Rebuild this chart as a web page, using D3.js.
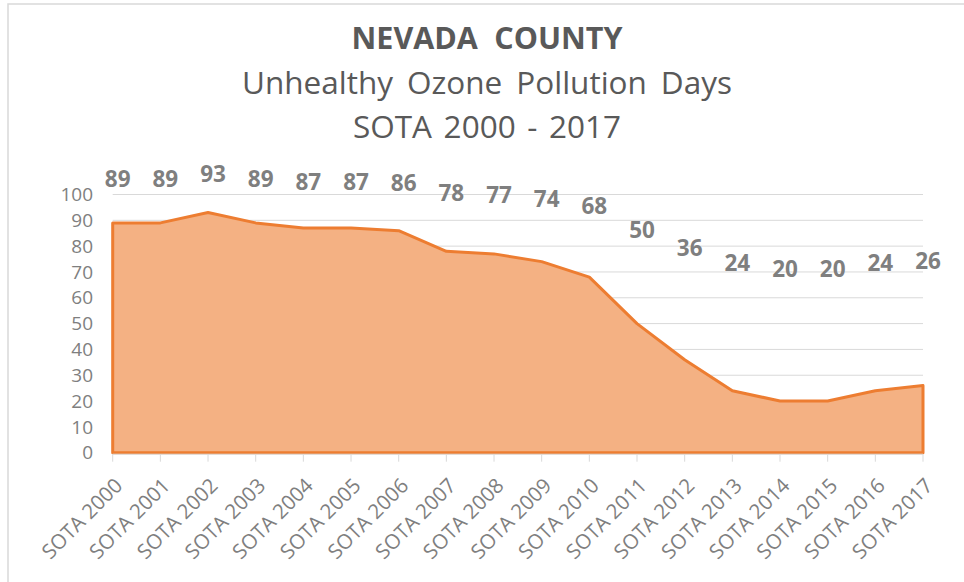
<!DOCTYPE html>
<html>
<head>
<meta charset="utf-8">
<script src="https://cdn.jsdelivr.net/npm/d3@7/dist/d3.min.js"></script>
<style>
  html, body { margin: 0; padding: 0; background: #fff; }
  svg { display: block; }
</style>
</head>
<body>
<svg id="chart" width="964" height="582"></svg>
<script>
// ---- data ----
const categories = ["SOTA 2000","SOTA 2001","SOTA 2002","SOTA 2003","SOTA 2004","SOTA 2005",
  "SOTA 2006","SOTA 2007","SOTA 2008","SOTA 2009","SOTA 2010","SOTA 2011","SOTA 2012",
  "SOTA 2013","SOTA 2014","SOTA 2015","SOTA 2016","SOTA 2017"];
const values = [89, 89, 93, 89, 87, 87, 86, 78, 77, 74, 68, 50, 36, 24, 20, 20, 24, 26];
const yTicks = [0, 10, 20, 30, 40, 50, 60, 70, 80, 90, 100];
const titleLines = ["NEVADA COUNTY", "Unhealthy Ozone Pollution Days", "SOTA 2000 - 2017"];

(function () {
// ---- layout ----
const svg = d3.select("#chart");
const FONT = "'Open Sans', 'DejaVu Sans', sans-serif";
const plotLeft = 112.7, plotRight = 923, plotTop = 194.5, plotBottom = 452.7;

const x = d3.scalePoint().domain(categories).range([plotLeft, plotRight]);
const y = d3.scaleLinear().domain([0, 100]).range([plotBottom, plotTop]);
// data labels sit in a compressed band above the plot (as placed in the original)
const labelY = d3.scaleLinear().domain([20, 93]).range([268.5, 174]);

// chart border
svg.append("rect")
  .attr("x", 8).attr("y", 4).attr("width", 980).attr("height", 600)
  .attr("fill", "#fff").attr("stroke", "#D9D9D9").attr("stroke-width", 1.5);

// gridlines
svg.append("g").selectAll("line")
  .data(yTicks.filter(d => d > 0))
  .join("line")
  .attr("x1", plotLeft).attr("x2", plotRight)
  .attr("y1", d => y(d)).attr("y2", d => y(d))
  .attr("stroke", "#D9D9D9").attr("stroke-width", 1);

// area
const area = d3.area()
  .x((d, i) => x(categories[i]))
  .y0(y(0))
  .y1(d => y(d));
svg.append("path")
  .datum(values)
  .attr("d", d => area(d))
  .attr("fill", "#F4B183")
  .attr("stroke", "#ED7D31")
  .attr("stroke-width", 3)
  .attr("stroke-linejoin", "round");

// x axis line and ticks
svg.append("line")
  .attr("x1", plotLeft).attr("x2", plotRight)
  .attr("y1", y(0) + 1.5).attr("y2", y(0) + 1.5)
  .attr("stroke", "#D9D9D9").attr("stroke-width", 1);
svg.append("g").selectAll("line")
  .data(categories)
  .join("line")
  .attr("x1", d => x(d)).attr("x2", d => x(d))
  .attr("y1", y(0) + 1.5).attr("y2", y(0) + 9)
  .attr("stroke", "#D9D9D9").attr("stroke-width", 1);

// y tick labels
svg.append("g").selectAll("text")
  .data(yTicks)
  .join("text")
  .attr("x", 93)
  .attr("y", d => y(d) + 6.7)
  .attr("text-anchor", "end")
  .attr("font-family", FONT)
  .attr("font-size", 19)
  .attr("fill", "#7F7F7F")
  .text(d => d);

// x tick labels (rotated)
svg.append("g").selectAll("text")
  .data(categories)
  .join("text")
  .attr("transform", d => `translate(${x(d) + 11},${487}) rotate(-45)`)
  .attr("text-anchor", "end")
  .attr("font-family", FONT)
  .attr("font-size", 20.5)
  .attr("fill", "#7F7F7F")
  .text(d => d);

// data labels
svg.append("g").selectAll("text")
  .data(values)
  .join("text")
  .attr("x", (d, i) => x(categories[i]) + 5)
  .attr("y", d => labelY(d) + 8)
  .attr("text-anchor", "middle")
  .attr("font-family", FONT)
  .attr("font-size", 22.5)
  .attr("font-weight", "bold")
  .attr("fill", "#7F7F7F")
  .text(d => d);

// titles
const titleSpecs = [
  { text: titleLines[0], base: 49, size: 30.5, weight: "bold", width: 271 },
  { text: titleLines[1], base: 93.5, size: 31.5, weight: "normal", width: 490 },
  { text: titleLines[2], base: 137.7, size: 31.5, weight: "normal", width: 268 }
];
svg.append("g").selectAll("text")
  .data(titleSpecs)
  .join("text")
  .attr("x", 487)
  .attr("y", d => d.base)
  .attr("text-anchor", "middle")
  .attr("font-family", FONT)
  .attr("font-size", d => d.size)
  .attr("font-weight", d => d.weight)
  .attr("fill", "#595959")
  .text(d => d.text)
  .each(function(d) {
    const natural = this.getComputedTextLength();
    const spaces = (d.text.match(/ /g) || []).length;
    if (spaces > 0 && d.width > natural) {
      d3.select(this).style("word-spacing", ((d.width - natural) / spaces) + "px");
    }
  });
})();
</script>
</body>
</html>
